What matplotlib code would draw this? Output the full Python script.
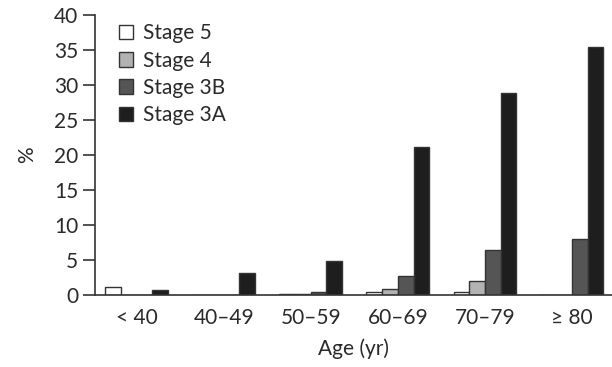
import matplotlib
matplotlib.use('Agg')

import numpy as np
import matplotlib.pyplot as plt

# data
age_groups = ["< 40", "40\u201349", "50\u201359", "60\u201369", "70\u201379", "\u2265 80"]
stage_5 = [1.2, 0.0, 0.2, 0.5, 0.5, 0.0]
stage_4 = [0.0, 0.0, 0.1, 0.8, 2.0, 0.0]
stage_3b = [0.0, 0.0, 0.5, 2.7, 6.4, 8.0]
stage_3a = [0.7, 3.1, 4.9, 21.1, 28.8, 35.5]

series = [
    ("Stage 5", stage_5, "#ffffff"),
    ("Stage 4", stage_4, "#b2b2b2"),
    ("Stage 3B", stage_3b, "#555555"),
    ("Stage 3A", stage_3a, "#1e1e1e"),
]

plt.rcParams['font.family'] = ['Lato', 'DejaVu Sans']
FS = 15
TXT = "#2a2a2a"

fig = plt.figure(figsize=(6.12, 3.67), dpi=100)
ax = fig.add_axes([0.155, 0.196, 0.845, 0.763])

x = np.arange(len(age_groups))
width = 0.18
for i, (name, vals, color) in enumerate(series):
    ax.bar(x + (i - 1.5) * width, vals, width, color=color,
           edgecolor="#333333", linewidth=1.0, label=name)

ax.set_xlim(-0.48, 5.46)
ax.set_ylim(0, 40)
ax.set_yticks(range(0, 41, 5))
ax.set_xticks(x)
ax.set_xticklabels(age_groups)

ax.spines['top'].set_visible(False)
ax.spines['right'].set_visible(False)
for s in ('left', 'bottom'):
    ax.spines[s].set_color("#333333")
    ax.spines[s].set_linewidth(1.2)

ax.tick_params(axis='y', length=9, width=1.2, color="#333333",
               labelsize=FS, labelcolor=TXT, pad=3)
ax.tick_params(axis='x', length=0, labelsize=FS, labelcolor=TXT, pad=9)

ax.set_ylabel("%", fontsize=FS, color=TXT, labelpad=12)
ax.set_xlabel("Age (yr)", fontsize=FS, color=TXT, labelpad=8)

ax.legend(loc="upper left", bbox_to_anchor=(0.03, 1.0), frameon=False,
          fontsize=FS, handlelength=0.7, handleheight=0.7,
          handletextpad=0.45, labelspacing=0.35, borderaxespad=0,
          labelcolor=TXT)

plt.savefig("out.png", dpi=100)
